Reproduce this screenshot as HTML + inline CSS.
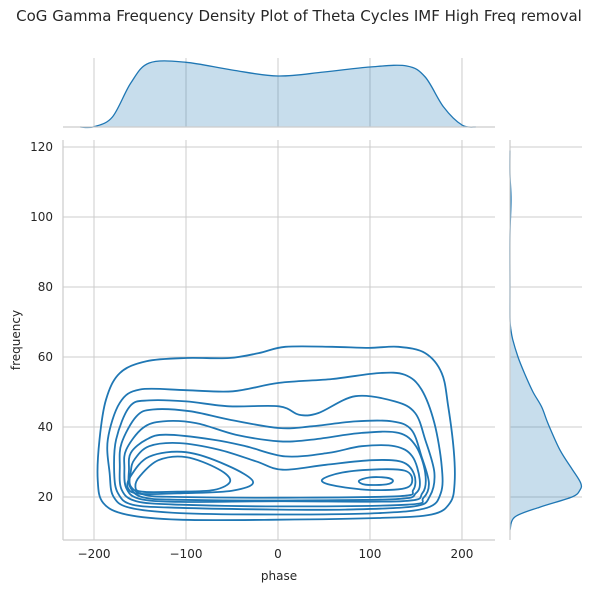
<!DOCTYPE html>
<html><head><meta charset="utf-8"><style>
html,body{margin:0;padding:0;background:#fff;}
svg{display:block;font-family:"DejaVu Sans","Liberation Sans",sans-serif;}
</style></head><body>
<svg id="chart" width="593" height="593" viewBox="0 0 593 593">
<text x="299" y="21" text-anchor="middle" font-size="15" fill="#262626">CoG Gamma Frequency Density Plot of Theta Cycles IMF High Freq removal</text>
<g id="grid"></g>
<g id="marg"></g>
<g id="contours"></g>
<g id="axes"></g>
<text x="279" y="580" text-anchor="middle" font-size="12" fill="#262626">phase</text>
<text x="0" y="0" transform="translate(20,340) rotate(-90)" text-anchor="middle" font-size="12" fill="#262626">frequency</text>
</svg>
<script>
const xTicks = [-200, -100, 0, 100, 200];
const yTicks = [20, 40, 60, 80, 100, 120];
const topPhase = [-215, -200, -180, -160, -140, -100, -50, 0, 50, 100, 140, 160, 180, 200, 215];
const topDensity = [0, 0.3, 10, 44, 64, 64.7, 57, 51, 55, 60, 61, 50, 20, 2, 0];
const rightFreq = [10.6, 14.3, 17.1, 20, 22, 24, 28, 33.4, 41, 45.7, 50, 55, 60, 65, 68, 71, 80, 95, 105, 112, 119];
const rightDensity = [0, 5, 30, 62, 70, 70.7, 62, 50, 38, 31.7, 23, 15, 8, 2.7, 0.8, 0, 0, 0, 1, 0, 0];
const level1 = [[-194,36.4],[-187,47.8],[-172,55.4],[-143,58.8],[-100,59.7],[-53,59.7],[-21,61.1],[8,62.9],[59,62.9],[99,62.6],[131,62.9],[160,61.1],[178,55.4],[185,45.9],[191,33.5],[192,24],[187,18.3],[167,15],[109,14],[1,13.5],[-107,13.5],[-165,15],[-190,18.3],[-196,25]];
const level2 = [[-185,36.4],[-172,46.9],[-150,50.7],[-100,50.5],[-49,50.2],[1,52.6],[59,53.7],[109,55.4],[138,54.9],[156,50.7],[170,41.1],[178,28.8],[177,21.1],[162,16.9],[109,15.4],[1,15],[-107,15.4],[-161,16.9],[-179,20.2],[-183,26.9]];
const level3 = [[-176,36.4],[-161,45.9],[-140,47.6],[-100,47.3],[-53,45.9],[1,45.9],[23,43.5],[44,44],[84,48.8],[127,47.3],[149,44],[160,36.4],[170,26.9],[165,20.2],[148,17.3],[73,16.4],[1,16.4],[-107,16.9],[-158,17.8],[-174,21.1],[-178,26.9]];
const level4 = [[-170,35.4],[-154,43],[-136,45],[-96,44.5],[-53,42.1],[1,39.7],[37,40.2],[84,41.6],[124,41.6],[145,39.2],[156,31.6],[164,24],[158,19.7],[140,17.8],[1,17.3],[-107,17.8],[-154,18.8],[-170,22.1],[-172,28.8]];
const level5 = [[-165,33.5],[-147,39.7],[-125,41.6],[-89,41.1],[-46,37.8],[1,35.9],[37,36.4],[91,38.3],[131,38.3],[150,34.5],[160,26.9],[157,21.1],[135,18.8],[1,18.8],[-107,18.6],[-151,19.5],[-165,22.6],[-167,28.3]];
const level6 = [[-160,32.6],[-143,36.4],[-122,37.8],[-71,36.4],[-35,34.5],[8,31.6],[55,32.6],[91,34.5],[127,34.5],[146,31.6],[154,25],[150,21.1],[128,19.4],[1,19],[-107,19.2],[-147,19.9],[-161,23],[-162,27.8]];
const level7 = [[-156,30.7],[-140,34.5],[-107,35.4],[-64,33.5],[-24,30.2],[5,27.8],[52,29.2],[102,30.5],[135,30],[148,26.5],[147,22],[130,20.2],[1,19.8],[-107,20],[-143,20.5],[-160,23],[-160,27.3]];
const levelLeftRing = [[-160,26],[-140,31.5],[-100,32.8],[-55,29],[-27,24.3],[-50,21.8],[-100,21.1],[-150,20.9],[-163,22.5]];
const levelLeftIsland = [[-150,26],[-130,30.5],[-100,31.4],[-65,28],[-52,24.5],[-70,22],[-110,21.5],[-148,21.5],[-155,23]];
const levelRightIsland = [[48,24.9],[70,27],[110,27.9],[138,27.5],[146,25],[138,22.5],[100,22],[60,23.3]];
const levelSmallIsland = [[88,24.6],[100,25.6],[118,25.5],[125,24.6],[118,23.6],[95,23.5]];
const contourLevels = [level1, level2, level3, level4, level5, level6, level7, levelLeftRing, levelLeftIsland, levelRightIsland, levelSmallIsland];

const NS = "http://www.w3.org/2000/svg";
const X0 = 63, X1 = 495, Y0 = 140, Y1 = 540;
const xMin = -233.7, xMax = 235.9, yMin = 7.7, yMax = 122;
function sx(v){ return X0 + (v - xMin) / (xMax - xMin) * (X1 - X0); }
function sy(v){ return Y1 - (v - yMin) / (yMax - yMin) * (Y1 - Y0); }
const TOP_BASE = 127, RIGHT_BASE = 510;
function topY(d){ return TOP_BASE - d; }
function rightX(d){ return RIGHT_BASE + d; }
function mk(tag, attrs, parent){ const e = document.createElementNS(NS, tag); for (const k in attrs) e.setAttribute(k, attrs[k]); parent.appendChild(e); return e; }
function smoothPath(pts, closed){
  const n = pts.length; let d = "M" + pts[0][0].toFixed(1) + "," + pts[0][1].toFixed(1);
  const get = i => closed ? pts[(i + n) % n] : pts[Math.max(0, Math.min(n - 1, i))];
  const segs = closed ? n : n - 1;
  for (let i = 0; i < segs; i++){
    const p0 = get(i - 1), p1 = get(i), p2 = get(i + 1), p3 = get(i + 2);
    const c1 = [p1[0] + (p2[0] - p0[0]) / 6, p1[1] + (p2[1] - p0[1]) / 6];
    const c2 = [p2[0] - (p3[0] - p1[0]) / 6, p2[1] - (p3[1] - p1[1]) / 6];
    d += "C" + c1[0].toFixed(1) + "," + c1[1].toFixed(1) + " " + c2[0].toFixed(1) + "," + c2[1].toFixed(1) + " " + p2[0].toFixed(1) + "," + p2[1].toFixed(1);
  }
  return d + (closed ? "Z" : "");
}
const grid = document.getElementById("grid");
const axes = document.getElementById("axes");
const marg = document.getElementById("marg");
const cont = document.getElementById("contours");
xTicks.forEach(t => {
  const x = sx(t);
  let g = mk("line", {x1:x, x2:x, y1:Y0, y2:Y1, stroke:"#cccccc", "stroke-width":1}, grid);
  
  
  let g2 = mk("line", {x1:x, x2:x, y1:58, y2:TOP_BASE, stroke:"#cccccc", "stroke-width":1}, grid);
  
  
  let tx = mk("text", {x:x, y:558, "text-anchor":"middle", "font-size":12, fill:"#262626"}, axes);
  tx.textContent = (t < 0 ? "\u2212" + (-t) : String(t));
  
  
});
yTicks.forEach(t => {
  const y = sy(t);
  let g = mk("line", {x1:X0, x2:X1, y1:y, y2:y, stroke:"#cccccc", "stroke-width":1}, grid);
  
  
  let g2 = mk("line", {x1:RIGHT_BASE, x2:582, y1:y, y2:y, stroke:"#cccccc", "stroke-width":1}, grid);
  
  
  let tx = mk("text", {x:53, y:y + 4, "text-anchor":"end", "font-size":12, fill:"#262626"}, axes);
  tx.textContent = String(t);
  
  
});
let s1 = mk("line", {x1:X0, x2:X0, y1:Y0, y2:Y1, stroke:"#cccccc", "stroke-width":1.2}, axes);


let s2 = mk("line", {x1:X0, x2:X1, y1:Y1, y2:Y1, stroke:"#cccccc", "stroke-width":1.2}, axes);


let s3 = mk("line", {x1:X0, x2:X1, y1:TOP_BASE, y2:TOP_BASE, stroke:"#cccccc", "stroke-width":1.2}, axes);


let s4 = mk("line", {x1:RIGHT_BASE, x2:RIGHT_BASE, y1:Y0, y2:Y1, stroke:"#cccccc", "stroke-width":1.2}, axes);



const topPts = topPhase.map((p, i) => [sx(p), topY(topDensity[i])]);
const topLine = smoothPath(topPts, false);
let tf = mk("path", {d: topLine + "L" + sx(topPhase[topPhase.length-1]) + "," + TOP_BASE + "L" + sx(topPhase[0]) + "," + TOP_BASE + "Z", fill:"rgba(31,119,180,0.25)", stroke:"none"}, marg);


let tl = mk("path", {d: topLine, fill:"none", stroke:"#1f77b4", "stroke-width":1.3}, marg);



const rPts = rightFreq.map((f, i) => [rightX(rightDensity[i]), sy(f)]);
const rLine = smoothPath(rPts, false);
let rf = mk("path", {d: rLine + "L" + RIGHT_BASE + "," + sy(rightFreq[rightFreq.length-1]) + "L" + RIGHT_BASE + "," + sy(rightFreq[0]) + "Z", fill:"rgba(31,119,180,0.25)", stroke:"none"}, marg);


let rl = mk("path", {d: rLine, fill:"none", stroke:"#1f77b4", "stroke-width":1.3}, marg);



contourLevels.forEach((lv) => {
  const pts = lv.map(p => [sx(p[0]), sy(p[1])]);
  let c = mk("path", {d: smoothPath(pts, true), fill:"none", stroke:"#1f77b4", "stroke-width":1.8}, cont);
  
  
});
</script>
</body></html>
